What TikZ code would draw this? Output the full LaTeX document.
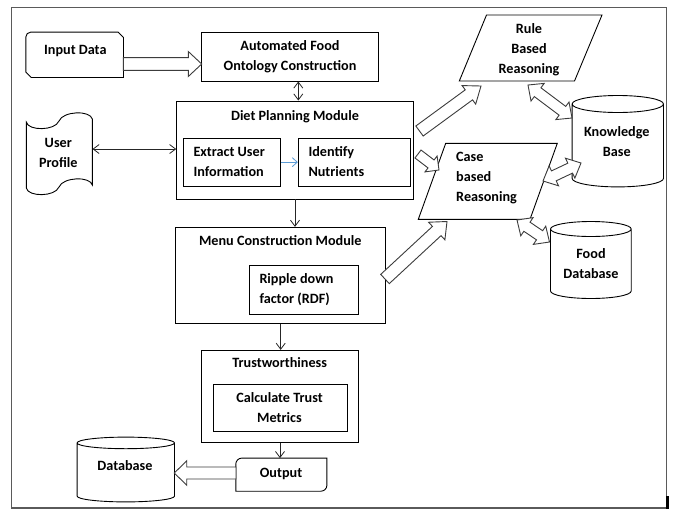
\documentclass[tikz,border=0pt]{standalone}
\usepackage{fontspec}
\setmainfont{Carlito}
\usetikzlibrary{calc,arrows.meta}
\definecolor{framegray}{RGB}{90,90,90}
\definecolor{arrowgray}{RGB}{60,60,60}
\definecolor{lightblue}{RGB}{91,155,213}
% single hollow block arrow: from, to, shaft half width, head half width, head length
\newcommand{\sblock}[5]{%
  \draw[barrow] ($(#1)!#3pt!90:(#2)$)
    -- ($ ($(#2)!#5pt!(#1)$) !#3pt!90:(#2) $)
    -- ($ ($(#2)!#5pt!(#1)$) !#4pt!90:(#2) $)
    -- (#2)
    -- ($ ($(#2)!#5pt!(#1)$) !#4pt!-90:(#2) $)
    -- ($ ($(#2)!#5pt!(#1)$) !#3pt!-90:(#2) $)
    -- ($(#1)!#3pt!-90:(#2)$) -- cycle;}
% double hollow block arrow
\newcommand{\dblock}[5]{%
  \draw[barrow] (#1)
    -- ($ ($(#1)!#5pt!(#2)$) !#4pt!90:(#2) $)
    -- ($ ($(#1)!#5pt!(#2)$) !#3pt!90:(#2) $)
    -- ($ ($(#2)!#5pt!(#1)$) !#3pt!90:(#2) $)
    -- ($ ($(#2)!#5pt!(#1)$) !#4pt!90:(#2) $)
    -- (#2)
    -- ($ ($(#2)!#5pt!(#1)$) !#4pt!-90:(#2) $)
    -- ($ ($(#2)!#5pt!(#1)$) !#3pt!-90:(#2) $)
    -- ($ ($(#1)!#5pt!(#2)$) !#3pt!-90:(#2) $)
    -- ($ ($(#1)!#5pt!(#2)$) !#4pt!-90:(#2) $)
    -- cycle;}
% cylinder drawn round a named node: node, ellipse half height
\newcommand{\drawcyl}[2]{%
  \draw[shapeline] let \p1=(#1.north west), \p2=(#1.south east) in
    ({\x1},{\y1-#2pt}) -- ({\x1},{\y2+#2pt})
    arc[start angle=180, end angle=360, x radius={(\x2-\x1)/2}, y radius=#2pt]
    -- ({\x2},{\y1-#2pt})
    arc[start angle=0, end angle=180, x radius={(\x2-\x1)/2}, y radius=#2pt]
    -- cycle
    ({\x1},{\y1-#2pt})
    arc[start angle=180, end angle=360, x radius={(\x2-\x1)/2}, y radius=#2pt];}
\begin{document}
\begin{tikzpicture}[x=1pt,y=-1pt,
  box/.style={rectangle, draw=black, line width=0.9pt, fill=white, inner sep=0pt},
  ghost/.style={rectangle, inner sep=0pt},
  shapeline/.style={draw=black, line width=0.9pt, fill=white},
  lbl/.style={font=\fontsize{14.2}{20}\selectfont\bfseries, inner sep=0pt, anchor=base, align=center, text=black},
  lbll/.style={lbl, anchor=base west, align=left},
  tarr/.style={draw=black!85, line width=0.8pt, -{Straight Barb[length=6pt,width=9pt]}},
  tdarr/.style={draw=black!85, line width=0.8pt, {Straight Barb[length=6pt,width=9pt]}-{Straight Barb[length=6pt,width=9pt]}},
  barrow/.style={draw=arrowgray, line width=0.9pt, fill=white, line join=miter}
]
\useasboundingbox (0,0) rectangle (677,515);
\draw[framegray, line width=1.2pt] (11.7,7.7) rectangle (666.7,508);
\fill[black] (666.2,496) rectangle (668.8,508.6);

% rectangular boxes
\node[box, minimum width=176.6, minimum height=48.7] (auto) at (290,56.65) {};
\node[box, minimum width=236.6, minimum height=98] (diet) at (295,150) {};
\node[box, minimum width=97.4, minimum height=47.7] (extract) at (232,162.15) {};
\node[box, minimum width=112.4, minimum height=47.7] (identify) at (354.5,162.15) {};
\node[box, minimum width=210, minimum height=96] (menu) at (280.7,275.3) {};
\node[box, minimum width=109, minimum height=48.6] (ripple) at (303.8,290) {};
\node[box, minimum width=156.6, minimum height=92] (trust) at (280,396.3) {};
\node[box, minimum width=134, minimum height=46.7] (calc) at (280.3,407.65) {};

% Input Data (card)
\node[ghost, minimum width=97.3, minimum height=45] (inp) at (74.65,54.8) {};
\draw[shapeline] ($(inp.south west)+(5.5,0)$) -- ($(inp.south west)+(0,-5.5)$)
  [rounded corners=5] -- (inp.north west) -- (inp.north) [sharp corners]
  -- ($(inp.north east)+(-5.5,0)$) -- ($(inp.north east)+(0,5.5)$) -- (inp.south east) -- cycle;

% User Profile (tape)
\node[ghost, minimum width=66, minimum height=82] (user) at (59.3,153) {};
\draw[shapeline] (26.3,122) .. controls (28,131) and (55,131) .. (59,121)
  .. controls (63,111) and (90,110) .. (92.3,119) -- (92.3,185)
  .. controls (90,176) and (63,177) .. (59,187)
  .. controls (55,197) and (28,197) .. (26.3,188) -- cycle;

% Output
\node[ghost, minimum width=90.7, minimum height=32.7] (out) at (281.35,474.65) {};
\draw[shapeline] (out.south west) [rounded corners=6] -- (out.north west) -- (out.north)
  [sharp corners] -- (out.north east) -- (out.east) [rounded corners=6]
  -- (out.south east) -- (out.south) [sharp corners] -- cycle;

% parallelograms
\node[ghost, minimum width=115.5, minimum height=66] (rule) at (530.7,48) {};
\draw[shapeline] (486.5,15) -- (602,15) -- (574.5,81) -- (459.3,81) -- cycle;
\node[ghost, minimum width=111.6, minimum height=76] (case) at (487.8,181.3) {};
\draw[shapeline] (445.7,143.3) -- (557.3,143.3) -- (530,219.3) -- (418.3,219.3) -- cycle;

% cylinders
\node[ghost, minimum width=91, minimum height=91] (kb) at (617.8,141.2) {};
\drawcyl{kb}{8.5}
\node[ghost, minimum width=80.3, minimum height=76.6] (food) at (590.85,260) {};
\drawcyl{food}{7.5}
\node[ghost, minimum width=97, minimum height=64.4] (db) at (125.8,469.5) {};
\drawcyl{db}{5.8}

% thin connectors
\draw[tdarr] ($(auto.south)+(8.3,0)$) -- ($(diet.north)+(3.3,0)$);
\draw[tdarr] ($(user.east)+(0,-4)$) -- ($(diet.west)+(0,-1)$);
\draw[draw=lightblue, line width=0.8pt, -{Straight Barb[length=5pt,width=9pt]}] (extract.east) -- (identify.west);
\draw[tarr] (diet.south) -- (diet.south |- menu.north);
\draw[tarr] (menu.south) -- (menu.south |- trust.north);
\draw[tarr] (trust.south) -- (trust.south |- out.north);

% block arrow end points
\coordinate (b0s) at (123.3,64);   \coordinate (b0e) at (201.7,64);
\coordinate (b1s) at (419.5,131);  \coordinate (b1e) at (481,86);
\coordinate (b2s) at (418,154);    \coordinate (b2e) at (439,170);
\coordinate (b3s) at (528,85);     \coordinate (b3e) at (572,118);
\coordinate (b4s) at (543,181);    \coordinate (b4e) at (581,163);
\coordinate (b5s) at (517,220);    \coordinate (b5e) at (549.5,242);
\coordinate (b6s) at (385,279);    \coordinate (b6e) at (447,221.5);
\coordinate (b7s) at (236,473);    \coordinate (b7e) at (174.3,473);

\sblock{b0s}{b0e}{6.4}{12.5}{13.4}
\sblock{b1s}{b1e}{6.2}{11.5}{15}
\sblock{b2s}{b2e}{5}{10}{10}
\dblock{b3s}{b3e}{5.5}{11}{12}
\dblock{b4s}{b4e}{5.5}{11}{12}
\dblock{b5s}{b5e}{5.5}{11}{12}
\sblock{b6s}{b6e}{6.3}{12}{14}
\sblock{b7s}{b7e}{6}{12.2}{12.4}

% labels (anchor base = baseline of the last line)
\node[lbl] (inpT) at (75.3,54.3) {Input Data};
\node[lbl] (autoT) at (290,70) {Automated Food\\Ontology Construction};
\node[lbl] (dietT) at (295,120) {Diet Planning Module};
\node[lbll] (extractT) at (193.3,176.7) {Extract User\\Information};
\node[lbll] (identifyT) at (308.3,176.7) {Identify\\Nutrients};
\node[lbl] (userT) at (58.3,167.7) {User\\Profile};
\node[lbl] (ruleT) at (529,73.3) {Rule\\Based\\Reasoning};
\node[lbl] (kbT) at (616.8,156) {Knowledge\\Base};
\node[lbll] (caseT) at (456,201.2) {Case\\based\\Reasoning};
\node[lbl] (foodT) at (591,278.3) {Food\\Database};
\node[lbl] (menuT) at (280.3,245) {Menu Construction Module};
\node[lbll] (rippleT) at (259.3,303.3) {Ripple down\\factor (RDF)};
\node[lbl] (trustT) at (279.7,367.7) {Trustworthiness};
\node[lbl] (calcT) at (279.5,422) {Calculate Trust\\Metrics};
\node[lbl] (outT) at (281,477.3) {Output};
\node[lbl] (dbT) at (125,470) {Database};
\end{tikzpicture}
\end{document}
